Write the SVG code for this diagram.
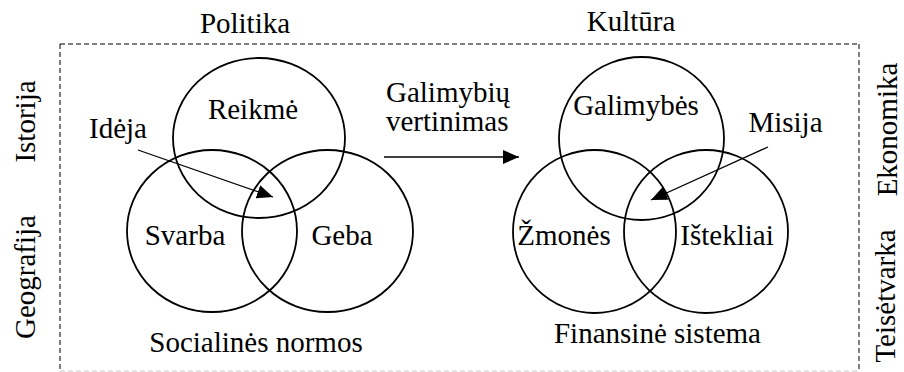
<svg xmlns="http://www.w3.org/2000/svg" width="904" height="372" viewBox="0 0 904 372">
<defs>
<style>
text{font-family:'Liberation Serif','DejaVu Serif',serif;font-size:29px;fill:#000}
.c{fill:none;stroke:#000;stroke-width:1.8}
.d{fill:none;stroke:#000;stroke-width:1;stroke-dasharray:5,3}
.dl{fill:none;stroke:#c8c8c8;stroke-width:1;stroke-dasharray:5,3}
.a{fill:none;stroke:#000;stroke-width:1.3}
.m{text-anchor:middle}
</style>
<marker id="ah" viewBox="0 0 16 14" refX="16" refY="7" markerWidth="16" markerHeight="14" markerUnits="userSpaceOnUse" orient="auto">
<path d="M0,0 L16,7 L0,14 Z" fill="#000"/>
</marker>
</defs>
<rect width="904" height="372" fill="#fff"/>
<g id="frame">
<path class="d" d="M60,44 H859 M60,44 V371 M859,44 V371"/>
<path class="dl" d="M60,371 H859"/>
</g>
<g font-family="Liberation Serif, DejaVu Serif, serif">
<g id="outer-labels">
<text class="m" x="245" y="33">Politika</text>
<text class="m" x="631" y="31">Kultūra</text>
<text class="m" transform="translate(35,121.5) rotate(-90)">Istorija</text>
<text class="m" transform="translate(35,277) rotate(-90)">Geografija</text>
<text class="m" transform="translate(897,129.5) rotate(-90)">Ekonomika</text>
<text class="m" transform="translate(895,296) rotate(-90)">Teisėtvarka</text>
</g>
<g id="left-venn">
<g id="reikme"><ellipse class="c" cx="259" cy="138" rx="86" ry="80"/><text class="m" x="253" y="119">Reikmė</text></g>
<g id="svarba"><ellipse class="c" cx="212" cy="231" rx="85" ry="81"/><text class="m" x="185" y="245">Svarba</text></g>
<g id="geba"><ellipse class="c" cx="327.5" cy="231" rx="85.5" ry="81"/><text class="m" x="342" y="245">Geba</text></g>
<g id="ideja"><text class="m" x="118" y="138">Idėja</text></g>
<g id="socialines"><text class="m" x="256" y="352">Socialinės normos</text></g>
</g>
<g id="middle-label">
<text x="386" y="102">Galimybių</text>
<text x="386" y="131">vertinimas</text>
</g>
<g id="right-venn">
<g id="galimybes"><ellipse class="c" cx="641.5" cy="138.5" rx="82.5" ry="81.5"/><text class="m" x="636" y="115">Galimybės</text></g>
<g id="zmones"><ellipse class="c" cx="594.5" cy="231.5" rx="81.5" ry="81.5"/><text class="m" x="564" y="245">Žmonės</text></g>
<g id="istekliai"><ellipse class="c" cx="706" cy="231.5" rx="82" ry="81.5"/><text class="m" x="727" y="245">Ištekliai</text></g>
<g id="misija"><text class="m" x="785.5" y="132">Misija</text></g>
<g id="finansine"><text class="m" x="657.5" y="343">Finansinė sistema</text></g>
</g>
</g>
<g id="connectors">
<line class="a" x1="138" y1="150" x2="273" y2="197" marker-end="url(#ah)"/>
<line class="a" x1="768" y1="147" x2="651" y2="200" marker-end="url(#ah)"/>
<line class="a" x1="384" y1="157" x2="519" y2="157" marker-end="url(#ah)"/>
</g>
</svg>
